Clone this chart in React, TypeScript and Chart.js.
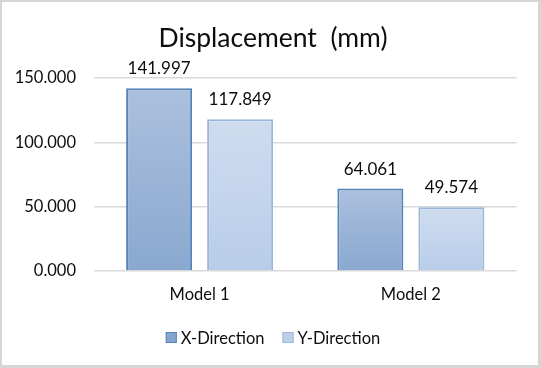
import React, { useEffect, useRef } from "react";
import { Chart, registerables } from "chart.js";

Chart.register(...registerables);

const categories = ["Model 1", "Model 2"];
const xDirection = [141.997, 64.061];
const yDirection = [117.849, 49.574];
const seriesNames = ["X-Direction", "Y-Direction"];
const titleText = "Displacement  (mm)";
const yMin = 0;
const yMax = 150;
const yStep = 50;

const FONT = "Lato, 'Open Sans', sans-serif";
const TEXT = "#0d0d0d";

const gradStops = [
  ["#abc0dd", "#8aa8d0"],
  ["#cfdcef", "#b8cde9"],
];
const borders = ["#5583b8", "#9ab6da"];
const legendFills = ["#86a5cf", "#bcd0ea"];

function barGradient(idx: number) {
  return (ctx: any) => {
    const chart = ctx.chart;
    const area = chart.chartArea;
    if (!area || ctx.type !== "data") return gradStops[idx][1];
    const yScale = chart.scales.y;
    const top = yScale.getPixelForValue(ctx.raw);
    const bottom = yScale.getPixelForValue(0);
    const g = chart.ctx.createLinearGradient(0, top, 0, bottom);
    g.addColorStop(0, gradStops[idx][0]);
    g.addColorStop(1, gradStops[idx][1]);
    return g;
  };
}

const decorPlugin = {
  id: "decor",
  afterDatasetsDraw(chart: any) {
    const ctx = chart.ctx;
    ctx.save();
    ctx.font = `17px ${FONT}`;
    ctx.fillStyle = TEXT;
    ctx.textAlign = "center";
    ctx.textBaseline = "alphabetic";
    chart.data.datasets.forEach((ds: any, di: number) => {
      const meta = chart.getDatasetMeta(di);
      meta.data.forEach((bar: any, i: number) => {
        ctx.fillText(Number(ds.data[i]).toFixed(3), bar.x, bar.y - 14);
      });
    });
    ctx.restore();
  },
  afterDraw(chart: any) {
    const ctx = chart.ctx;
    const W = chart.width;
    const H = chart.height;
    ctx.save();
    ctx.font = `26.5px ${FONT}`;
    ctx.fillStyle = TEXT;
    ctx.textAlign = "center";
    ctx.textBaseline = "alphabetic";
    ctx.fillText(titleText, 273, 47);
    ctx.font = `16.5px ${FONT}`;
    ctx.textAlign = "left";
    const box = 11;
    const gapBoxText = 4;
    const gapItems = 18;
    const widths = chart.data.datasets.map((d: any) => ctx.measureText(d.label).width);
    const total = widths.reduce((a: number, w: number) => a + box + gapBoxText + w, 0) + gapItems * (widths.length - 1);
    let x = 273 - total / 2;
    const cy = 337.5;
    chart.data.datasets.forEach((d: any, i: number) => {
      ctx.fillStyle = legendFills[i];
      ctx.fillRect(x, cy - box / 2, box, box);
      ctx.strokeStyle = borders[i];
      ctx.lineWidth = 1;
      ctx.strokeRect(x + 0.5, cy - box / 2 + 0.5, box - 1, box - 1);
      ctx.fillStyle = TEXT;
      ctx.textBaseline = "middle";
      ctx.fillText(d.label, x + box + gapBoxText, cy + 1);
      x += box + gapBoxText + widths[i] + gapItems;
    });
    ctx.fillStyle = "#d6d6d6";
    ctx.fillRect(0, 0, W, 2);
    ctx.fillRect(0, H - 3, W, 3);
    ctx.fillRect(0, 0, 2, H);
    ctx.fillRect(W - 3, 0, 3, H);
    ctx.restore();
  },
};

export default function App() {
  const ref = useRef<HTMLCanvasElement | null>(null);
  useEffect(() => {
    document.body.style.margin = "0";
    const canvas = ref.current;
    if (!canvas) return;
    const chart = new Chart(canvas, {
      type: "bar",
      data: {
        labels: categories,
        datasets: [
          {
            label: seriesNames[0],
            data: xDirection,
            backgroundColor: barGradient(0),
            borderColor: borders[0],
            borderWidth: 2,
            categoryPercentage: 0.767,
            barPercentage: 0.815,
          },
          {
            label: seriesNames[1],
            data: yDirection,
            backgroundColor: barGradient(1),
            borderColor: borders[1],
            borderWidth: 2,
            categoryPercentage: 0.767,
            barPercentage: 0.815,
          },
        ],
      },
      options: {
        animation: false,
        responsive: false,
        devicePixelRatio: 1,
        layout: { padding: { top: 78, right: 24.5, bottom: 0, left: 0 } },
        plugins: {
          legend: { display: false },
          title: { display: false },
          tooltip: { enabled: false },
        },
        scales: {
          x: {
            grid: { display: false, drawTicks: false },
            border: { display: false },
            ticks: { color: TEXT, font: { family: FONT, size: 16.5 }, padding: 14 },
            afterFit: (s: any) => {
              s.height = 97;
            },
          },
          y: {
            min: yMin,
            max: yMax,
            grid: { color: "#d9d9d9", lineWidth: 1.5, drawTicks: false },
            border: { display: false },
            ticks: {
              stepSize: yStep,
              color: TEXT,
              font: { family: FONT, size: 16.5 },
              padding: 18,
              callback: (v: any) => Number(v).toFixed(3),
            },
            afterFit: (s: any) => {
              s.width = 94;
            },
          },
        },
      },
      plugins: [decorPlugin],
    });
    return () => chart.destroy();
  }, []);
  return (
    <div style={{ width: 541, height: 368, background: "#fff" }}>
      <canvas ref={ref} width={541} height={368} style={{ display: "block" }} />
    </div>
  );
}
